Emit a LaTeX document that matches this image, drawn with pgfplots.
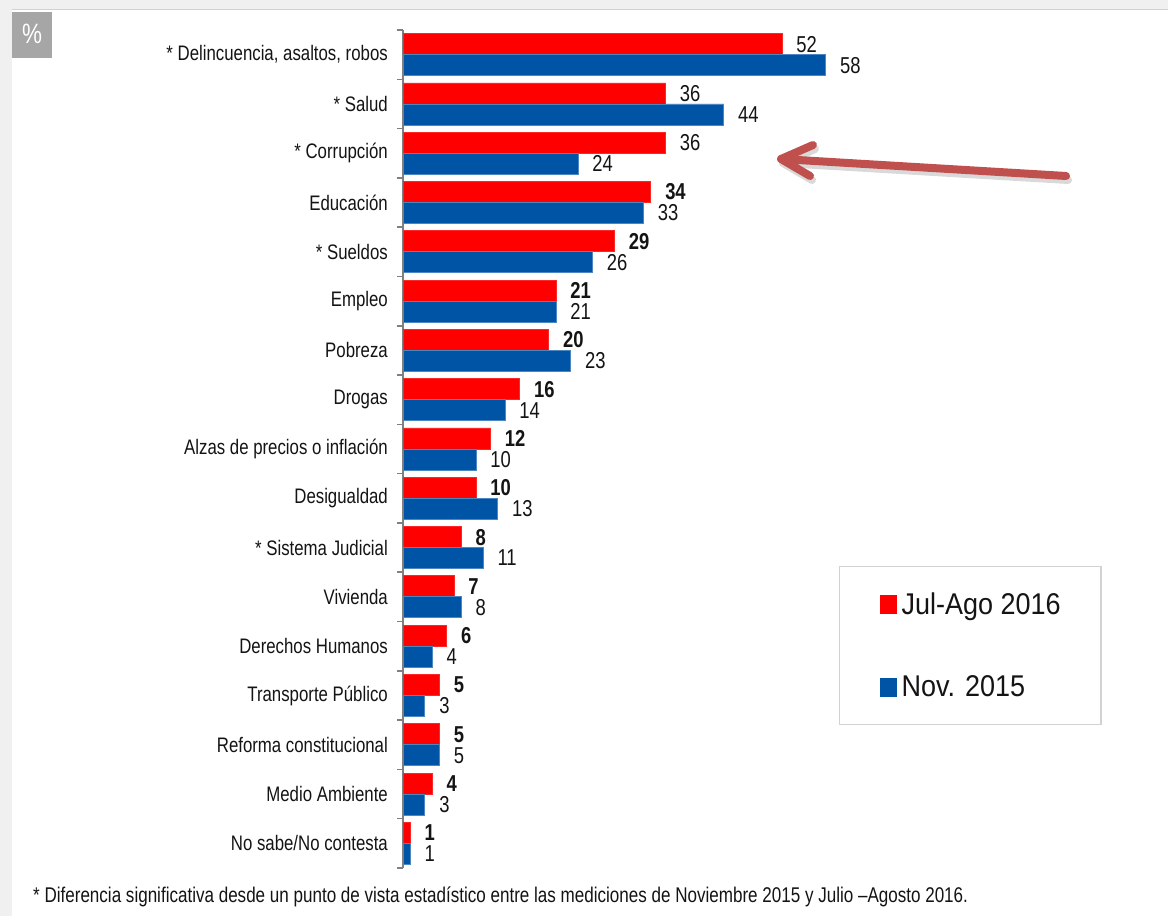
\documentclass[border=0pt]{standalone}
\usepackage{fontspec}
\setmainfont{Liberation Sans}[FakeStretch=0.8]
\newfontfamily\legfont{Liberation Sans}[FakeStretch=0.9]
\usepackage{pgfplots}
\usepackage{pgfplotstable}
\pgfplotsset{compat=1.18}
\definecolor{cred}{RGB}{255,0,0}
\definecolor{cblue}{RGB}{0,84,166}
\definecolor{txt}{RGB}{20,20,20}
\definecolor{bggray}{RGB}{240,240,240}
\definecolor{pctgray}{RGB}{166,166,166}
\definecolor{arrowred}{RGB}{192,80,77}
\definecolor{leggray}{RGB}{210,210,210}
\newcommand\B[1]{\textbf{#1}}
\pgfplotstableread{
y red blue rl
16 52 58 52
15 36 44 36
14 36 24 36
13 34 33 \B{34}
12 29 26 \B{29}
11 21 21 \B{21}
10 20 23 \B{20}
9 16 14 \B{16}
8 12 10 \B{12}
7 10 13 \B{10}
6 8 11 \B{8}
5 7 8 \B{7}
4 6 4 \B{6}
3 5 3 \B{5}
2 5 5 \B{5}
1 4 3 \B{4}
0 1 1 \B{1}
}\datatable
\begin{document}
\begin{tikzpicture}[x=1pt,y=1pt]
\useasboundingbox (0,0) rectangle (1168,916);
\fill[bggray] (0,0) rectangle (1168,916);
\fill[white] (12,0) rectangle (1168,906);
\draw[line width=1pt, black!18] (12,906.5) -- (1168,906.5);
\fill[pctgray] (12,858) rectangle (52,904);
\node[white, font=\fontsize{28}{32}\selectfont] at (32,882) {\%};
\begin{axis}[
  at={(403pt,48pt)}, anchor=south west,
  width=729pt, height=838pt, scale only axis,
  xmin=0, xmax=100, ymin=-0.5, ymax=16.5,
  axis x line=none,
  axis y line*=left,
  y axis line style={draw=black!50, line width=2pt},
  ytick={0,...,16},
  yticklabels={No sabe/No contesta, Medio Ambiente, Reforma constitucional, Transporte Público, Derechos Humanos, Vivienda, {* Sistema Judicial}, Desigualdad, {Alzas de precios o inflación}, Drogas, Pobreza, Empleo, {* Sueldos}, Educación, {* Corrupción}, {* Salud}, {* Delincuencia, asaltos, robos}},
  major tick length=0pt,
  minor ytick={-0.5,0.5,...,16.5},
  minor tick length=6pt,
  tick align=outside,
  minor tick style={draw=black!50, line width=1.5pt},
  yticklabel style={font=\fontsize{21}{25}\selectfont, text=txt, inner sep=0pt, xshift=-15pt},
  xbar, bar width=21pt,
  clip=false,
  point meta=explicit symbolic,
  nodes near coords={\pgfplotspointmeta},
  every node near coord/.append style={font=\fontsize{23}{27}\selectfont, text=txt, anchor=west, inner sep=0pt, xshift=14pt},
  legend style={at={(0.598,0.3604)}, anchor=north west, draw=leggray, line width=1.5pt,
    inner xsep=40pt, inner ysep=26pt, row sep=60pt,
    font=\legfont\fontsize{30}{36}\selectfont, text=txt,
    nodes={inner sep=0pt, anchor=base west}},
  legend cell align=left,
  legend image code/.code={\fill[#1, draw=none] (0pt,0pt) rectangle (17pt,19pt); \path[draw=none, fill=none] (0pt,0pt) -- (22pt,0pt);},
]
\addplot[fill=cred, draw=cred!85!white, line width=0.8pt, bar shift=10.5pt] table[x=red, y=y, meta=rl] {\datatable};
\addplot[fill=cblue, draw=cblue!70!white, line width=0.8pt, bar shift=-10.5pt] table[x=blue, y=y, meta=blue] {\datatable};
\legend{Jul-Ago 2016, Nov. 2015}
\end{axis}
% arrow annotation
\begin{scope}[line cap=round, line join=round, line width=8pt]
\draw[black, opacity=0.15, shift={(2pt,-4pt)}] (1066,740) -- (781,757) (813,771) -- (781,757) -- (810,740);
\draw[arrowred] (1066,740) -- (781,757) (813,771) -- (781,757) -- (810,740);
\end{scope}
\node[anchor=base west, font=\fontsize{21.3}{25}\selectfont, text=txt, inner sep=0pt] at (33,13) {* Diferencia significativa desde un punto de vista estadístico entre las mediciones de Noviembre 2015 y Julio –Agosto 2016.};
\end{tikzpicture}
\end{document}
